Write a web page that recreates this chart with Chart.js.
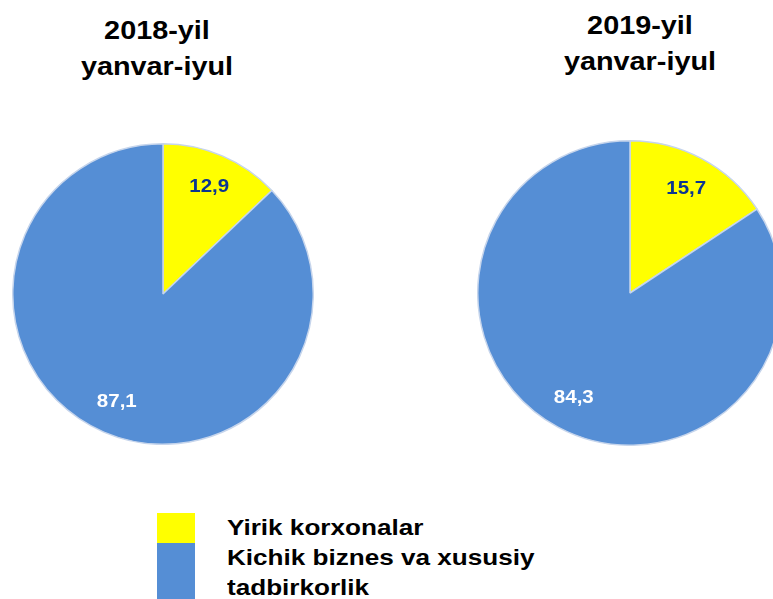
<!DOCTYPE html>
<html lang="uz">
<head>
  <meta charset="UTF-8">
  <title>Yirik korxonalar va kichik biznes ulushi</title>
  <script src="https://cdn.jsdelivr.net/npm/chart.js"></script>
  <style>
    html, body {
      margin: 0;
      padding: 0;
      width: 773px;
      height: 599px;
      overflow: hidden;
      background: #fff;
      font-family: "Liberation Sans", Arial, sans-serif;
    }
    .pie-box { position: absolute; }
    .title {
      position: absolute;
      width: 300px;
      text-align: center;
      font-weight: bold;
      font-size: 25.5px;
      line-height: 36px;
      color: #000;
      transform: scaleX(1.13);
    }
    .legend { position: absolute; left: 157px; top: 513px; }
    .legend-row { display: flex; align-items: flex-start; }
    .legend-swatch { width: 38px; flex: none; }
    .legend-text {
      margin-left: 32px;
      width: 275px;
      font-weight: bold;
      font-size: 22.5px;
      line-height: 30px;
      color: #000;
      transform: scaleX(1.16);
      transform-origin: left top;
    }
  </style>
</head>
<body>
  <div class="title" id="title0" style="left:7px; top:12px;"></div>
  <div class="title" id="title1" style="left:490px; top:7px;"></div>

  <div class="pie-box" style="left:12px; top:143px; width:302px; height:302px;">
    <canvas id="pie2018"></canvas>
  </div>
  <div class="pie-box" style="left:477px; top:140px; width:306px; height:306px;">
    <canvas id="pie2019"></canvas>
  </div>

  <div class="legend" id="legend"></div>

  <script>
    // categories and values (per cent)
    const categories = ['Yirik korxonalar', 'Kichik biznes va xususiy tadbirkorlik'];
    const periodTitles = [['2018-yil', 'yanvar-iyul'], ['2019-yil', 'yanvar-iyul']];
    const shares2018 = [12.9, 87.1];
    const shares2019 = [15.7, 84.3];

    const sliceColors = ['#FFFF00', '#558ED5'];
    const labelColors = ['#0B3591', '#FFFFFF'];

    // value labels drawn inside each slice, decimal comma like the original
    const sliceLabels = {
      id: 'sliceLabels',
      afterDatasetsDraw(chart) {
        const ctx = chart.ctx;
        const meta = chart.getDatasetMeta(0);
        const values = chart.data.datasets[0].data;
        ctx.save();
        ctx.font = 'bold 19px "Liberation Sans", Arial, sans-serif';
        ctx.textAlign = 'center';
        ctx.textBaseline = 'middle';
        meta.data.forEach((arc, i) => {
          const p = arc.getProps(['x', 'y', 'startAngle', 'endAngle', 'outerRadius'], true);
          const mid = (p.startAngle + p.endAngle) / 2;
          const r = p.outerRadius * 0.78;
          const x = p.x + Math.cos(mid) * r;
          const y = p.y + Math.sin(mid) * r;
          ctx.fillStyle = labelColors[i];
          ctx.save();
          ctx.translate(x, y);
          ctx.scale(1.08, 1);
          ctx.fillText(values[i].toFixed(1).replace('.', ','), 0, 0);
          ctx.restore();
        });
        ctx.restore();
      }
    };

    function makePie(canvasId, values) {
      return new Chart(document.getElementById(canvasId), {
        type: 'pie',
        data: {
          labels: categories,
          datasets: [{
            data: values,
            backgroundColor: sliceColors,
            borderColor: '#C6D5EC',
            borderWidth: 1.5
          }]
        },
        options: {
          responsive: true,
          maintainAspectRatio: false,
          animation: false,
          layout: { padding: 0 },
          plugins: {
            legend: { display: false },
            title: { display: false },
            tooltip: { enabled: false }
          }
        },
        plugins: [sliceLabels]
      });
    }

    makePie('pie2018', shares2018);
    makePie('pie2019', shares2019);

    // titles above each pie
    periodTitles.forEach((lines, i) => {
      document.getElementById('title' + i).innerHTML = lines.join('<br>');
    });

    // legend: swatch height follows the text rows, as in the original
    const legend = document.getElementById('legend');
    categories.forEach((name, i) => {
      const row = document.createElement('div');
      row.className = 'legend-row';
      const sw = document.createElement('div');
      sw.className = 'legend-swatch';
      sw.style.background = sliceColors[i];
      const txt = document.createElement('div');
      txt.className = 'legend-text';
      txt.textContent = name;
      row.appendChild(sw);
      row.appendChild(txt);
      legend.appendChild(row);
      sw.style.height = txt.offsetHeight + 'px';
    });
  </script>
</body>
</html>
